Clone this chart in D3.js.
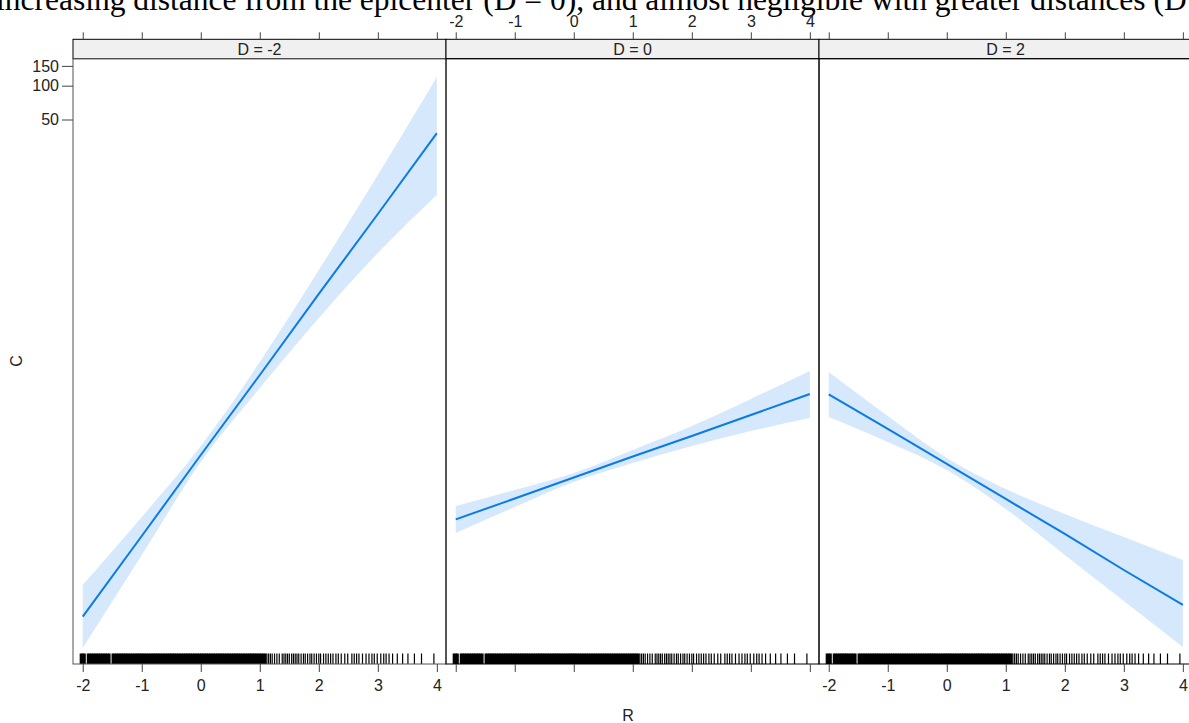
<!DOCTYPE html>
<html><head><meta charset="utf-8">
<script src="https://cdn.jsdelivr.net/npm/d3@7"></script>
<style>body{margin:0;background:#fff;}svg{display:block;}</style>
</head><body>
<script>
// ---- data ----
const panels = ["D = -2", "D = 0", "D = 2"];
const xVals = [-2, -1, 0, 1, 2, 3, 4];
const fitD_2 = [0.001888, 0.00986, 0.0518, 0.2667, 1.403, 7.22, 37.9];
const upD_2  = [0.00361, 0.01455, 0.0622, 0.348, 2.29, 16.06, 119.4];
const loD_2  = [0.000993, 0.00668, 0.0449, 0.204, 0.857, 3.25, 10.66];
const fitD0 = [0.01387, 0.02123, 0.03266, 0.05023, 0.0764, 0.1175, 0.1807];
const upD0  = [0.01824, 0.0253, 0.0358, 0.0574, 0.0938, 0.1633, 0.2897];
const loD0  = [0.01047, 0.01786, 0.02979, 0.0440, 0.0622, 0.0847, 0.1106];
const fitD2 = [0.1795, 0.0883, 0.0431, 0.02104, 0.01028, 0.00491, 0.00240];
const upD2  = [0.2838, 0.1151, 0.0488, 0.0258, 0.01548, 0.00966, 0.00603];
const loD2  = [0.1127, 0.0676, 0.0381, 0.01714, 0.00668, 0.00260, 0.001014];
const xTicks = [-2, -1, 0, 1, 2, 3, 4];
const yTicks = [50, 100, 150];
const rugDense = [-2.03,-2.00,-1.97,-1.91,-1.88,-1.85,-1.82,-1.79,-1.76,-1.73,-1.70,-1.67,-1.64,-1.61,-1.58,-1.55,-1.49,-1.46,-1.43,-1.40,-1.37,-1.34,-1.31,-1.28,-1.25,-1.22,-1.19,-1.16,-1.13,-1.10,-1.07,-1.04,-1.01,-0.98,-0.95,-0.92,-0.89,-0.86,-0.83,-0.80,-0.77,-0.74,-0.71,-0.68,-0.65,-0.62,-0.59,-0.56,-0.53,-0.50,-0.47,-0.44,-0.41,-0.38,-0.35,-0.32,-0.29,-0.26,-0.23,-0.20,-0.17,-0.14,-0.11,-0.08,-0.05,-0.02,0.01,0.04,0.07,0.10,0.13,0.16,0.19,0.22,0.25,0.28,0.31,0.34,0.37,0.40,0.43,0.46,0.49,0.52,0.55,0.58,0.61,0.64,0.67,0.70,0.73,0.76,0.79,0.82,0.85,0.88,0.91,0.94,0.97,1.00,1.03,1.06,1.09];
const rugSparse = [1.12,1.15,1.18,1.21,1.25,1.29,1.33,1.38,1.41,1.44,1.47,1.50,1.54,1.57,1.60,1.63,1.66,1.70,1.74,1.77,1.81,1.85,1.88,1.92,1.96,2.00,2.03,2.08,2.12,2.16,2.20,2.24,2.29,2.33,2.38,2.44,2.49,2.56,2.60,2.64,2.68,2.74,2.80,2.85,2.90,2.94,2.99,3.05,3.10,3.14,3.19,3.25,3.33,3.42,3.51,3.62,3.74,3.95];
const caption = "increasing distance from the epicenter (D = 0), and almost negligible with greater distances (D";

const series = [
  {fit: fitD_2, up: upD_2, lo: loD_2},
  {fit: fitD0, up: upD0, lo: loD0},
  {fit: fitD2, up: upD2, lo: loD2}
];

// ---- layout ----
const W = 1189, H = 723;
const panelLefts = [73, 446, 819];
const panelW = 373;
const stripTop = 39.3, panelTop = 58.7, panelBottom = 664;
const FONT = "'Liberation Sans', Arial, sans-serif";
const lineColor = "#0a7be6", bandColor = "#d6e8fb";
const tickFmt = d => String(d);

const svg = d3.select("body").append("svg").attr("width", W).attr("height", H);

svg.append("text").attr("x", -4).attr("y", 10)
  .attr("font-family", "'Liberation Serif', 'Times New Roman', serif")
  .attr("font-size", 31.5).attr("fill", "#000").text(caption);

const y = d3.scaleLog().domain([Math.pow(10, -3.145), Math.pow(10, 2.240)]).range([panelBottom, panelTop]);

panels.forEach((label, i) => {
  const left = panelLefts[i];
  const x = d3.scaleLinear().domain([-2.165, 4.155]).range([left, left + panelW]);
  const g = svg.append("g");
  const s = series[i];
  const pts = xVals.map((v, k) => ({x: v, fit: s.fit[k], up: s.up[k], lo: s.lo[k]}));

  const clipId = "clip" + i;
  svg.append("clipPath").attr("id", clipId).append("rect")
    .attr("x", left).attr("y", panelTop).attr("width", panelW).attr("height", panelBottom - panelTop);
  const inner = g.append("g").attr("clip-path", `url(#${clipId})`);

  inner.append("path").datum(pts)
    .attr("d", d3.area().x(d => x(d.x)).y0(d => y(d.lo)).y1(d => y(d.up)).curve(d3.curveMonotoneX))
    .attr("fill", bandColor);
  inner.append("path").datum(pts)
    .attr("d", d3.line().x(d => x(d.x)).y(d => y(d.fit)))
    .attr("fill", "none").attr("stroke", lineColor).attr("stroke-width", 2);

  // rug
  const rug = rugDense.map(v => ({v, w: 2.6})).concat(rugSparse.map(v => ({v, w: 1.2})));
  inner.selectAll("line.rug").data(rug).enter().append("line")
    .attr("x1", d => x(d.v)).attr("x2", d => x(d.v))
    .attr("y1", panelBottom - 10.5).attr("y2", panelBottom)
    .attr("stroke", "#000").attr("stroke-width", d => d.w);

  // strip
  g.append("rect").attr("x", left).attr("y", stripTop).attr("width", panelW).attr("height", panelTop - stripTop)
    .attr("fill", "#f0f0f0").attr("stroke", "#000").attr("stroke-width", 1);
  g.append("text").attr("x", left + panelW / 2).attr("y", stripTop + 15.5)
    .attr("text-anchor", "middle").attr("font-family", FONT).attr("font-size", 16).attr("fill", "#222").text(label);

  // panel border
  g.append("rect").attr("x", left).attr("y", panelTop).attr("width", panelW).attr("height", panelBottom - panelTop)
    .attr("fill", "none").attr("stroke", i === 0 ? "#555" : "#000").attr("stroke-width", 1);

  // bottom axis
  const bottomAxis = d3.axisBottom(x).tickValues(xTicks).tickSize(8).tickPadding(8)
    .tickFormat(i === 1 ? "" : tickFmt);
  const ba = g.append("g").attr("transform", `translate(0,${panelBottom})`).call(bottomAxis);
  ba.select(".domain").remove();
  ba.selectAll("line").attr("stroke", "#444");
  ba.selectAll("text").attr("font-family", FONT).attr("font-size", 16).attr("fill", "#222");

  // top axis
  const topAxis = d3.axisTop(x).tickValues(xTicks).tickSize(7).tickPadding(5)
    .tickFormat(i === 1 ? tickFmt : "");
  const ta = g.append("g").attr("transform", `translate(0,${stripTop})`).call(topAxis);
  ta.select(".domain").remove();
  ta.selectAll("line").attr("stroke", "#444");
  ta.selectAll("text").attr("font-family", FONT).attr("font-size", 16).attr("fill", "#222");

  if (i === 0) {
    const la = g.append("g").attr("transform", `translate(${left},0)`)
      .call(d3.axisLeft(y).tickValues(yTicks).tickSize(11).tickPadding(3).tickFormat(tickFmt));
    la.select(".domain").remove();
    la.selectAll("line").attr("stroke", "#444");
    la.selectAll("text").attr("font-family", FONT).attr("font-size", 16).attr("fill", "#222");
  }
});

svg.append("text").attr("x", 628).attr("y", 721).attr("text-anchor", "middle")
  .attr("font-family", FONT).attr("font-size", 16).attr("fill", "#222").text("R");
svg.append("text").attr("transform", "translate(22,361) rotate(-90)").attr("text-anchor", "middle")
  .attr("font-family", FONT).attr("font-size", 16).attr("fill", "#222").text("C");
</script>
</body></html>
